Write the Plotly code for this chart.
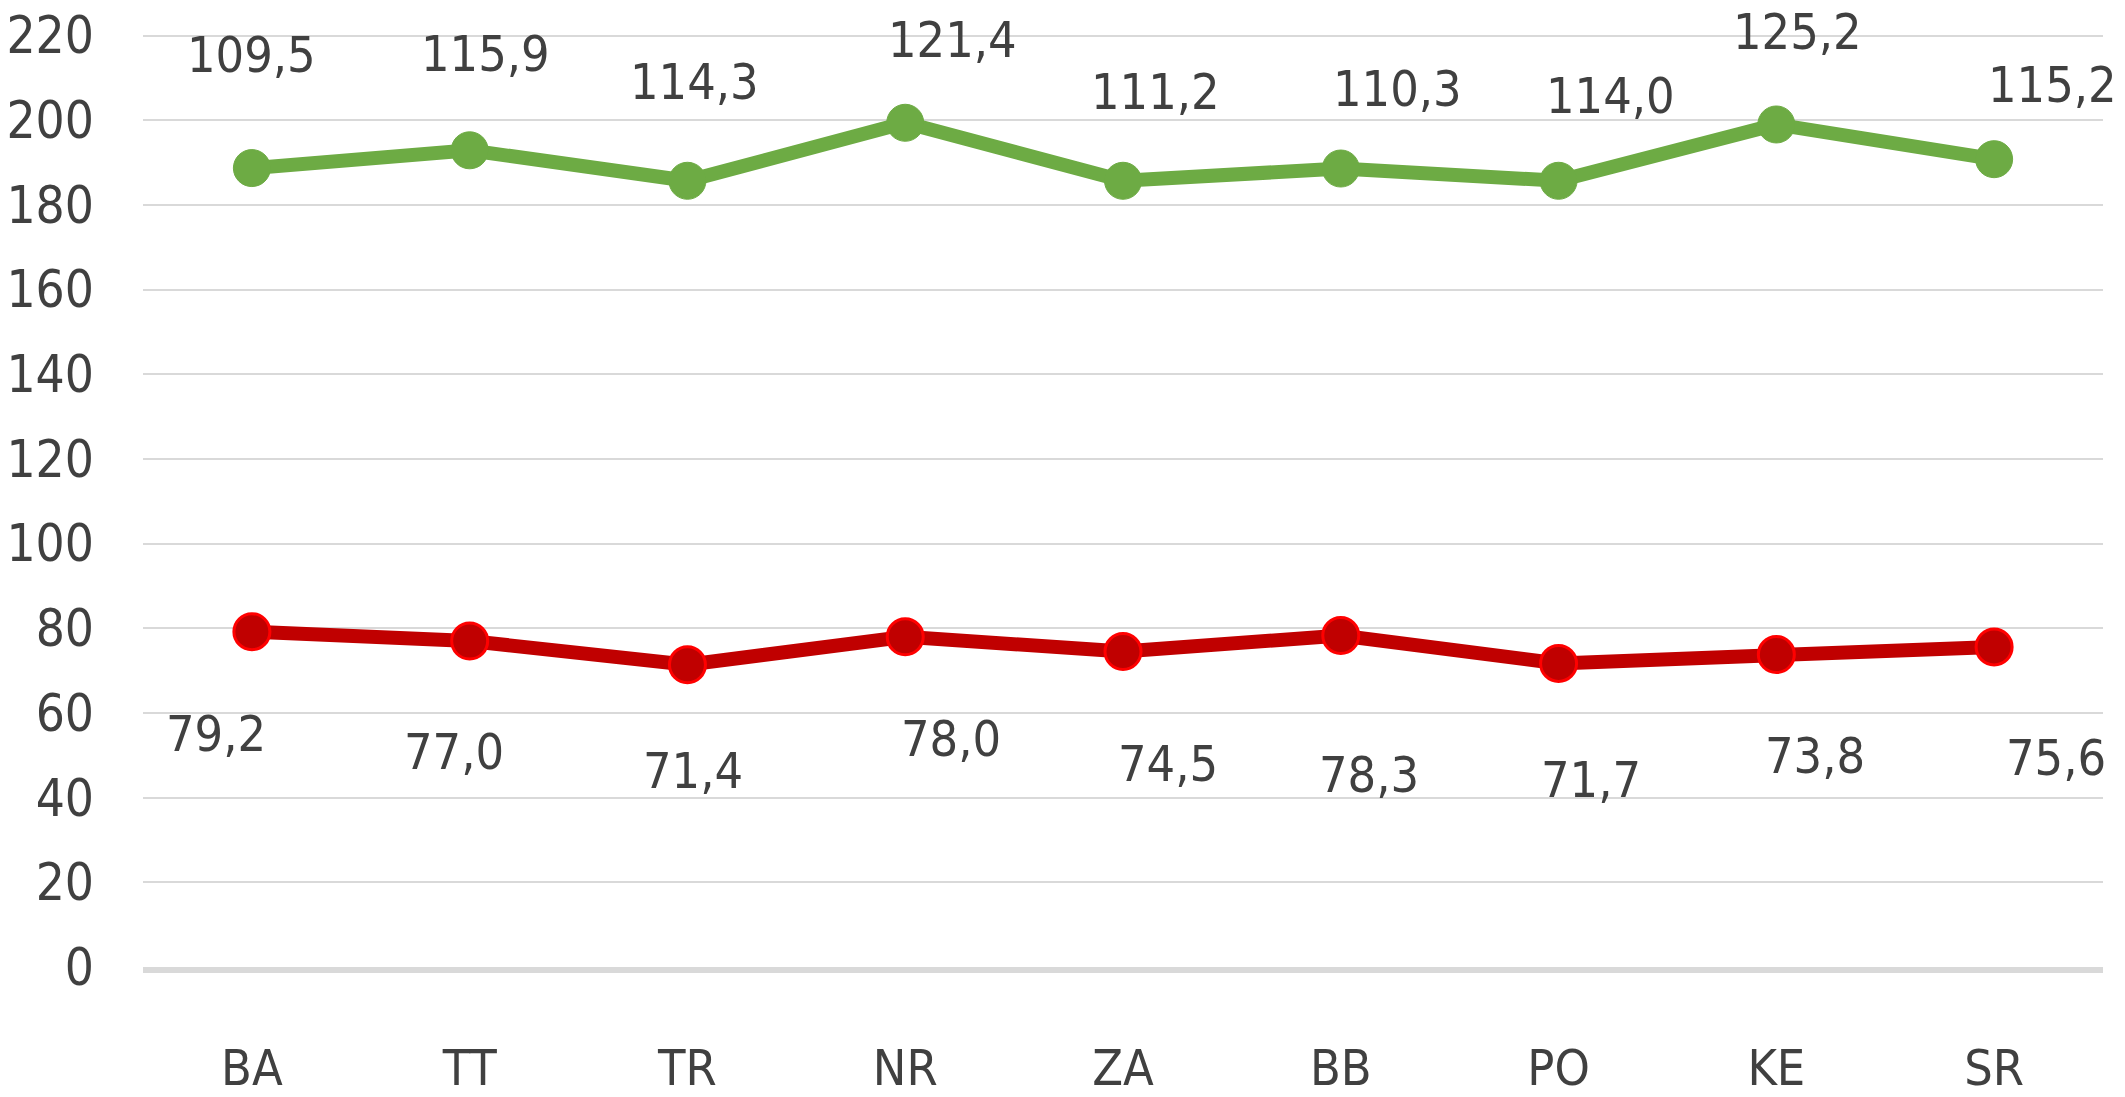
import plotly.graph_objects as go

# regions (x axis)
regions = ["BA", "TT", "TR", "NR", "ZA", "BB", "PO", "KE", "SR"]

# lower series (red) and upper series (green), the green one is stacked on the red
red_values = [79.2, 77.0, 71.4, 78.0, 74.5, 78.3, 71.7, 73.8, 75.6]
green_values = [109.5, 115.9, 114.3, 121.4, 111.2, 110.3, 114.0, 125.2, 115.2]

y_ticks = [0, 20, 40, 60, 80, 100, 120, 140, 160, 180, 200, 220]

# data labels were dragged by hand in the original, so keep their pixel offsets
green_label_dx = [0, 16, 7, 47, 32, 57, 52, 21, 58]
green_label_dy = [113, 96, 99, 83, 89, 80, 85, 92, 74]
red_label_dx = [-36, -16, 6, 46, 45, 28, 32, 39, 62]
red_label_dy = [-102, -111, -106, -102, -112, -140, -117, -101, -111]

FONT = "Liberation Sans Narrow, DejaVu Sans Condensed, Roboto Condensed, Arial Narrow, sans-serif"
TEXT_COLOR = "#404040"
GREEN = "#6dab44"
DARK_RED = "#c00000"
RED = "#ff0000"
FONT_SIZE = 50


def fmt(v):
    return f"{v:.1f}".replace(".", ",")


fig = go.Figure()

fig.add_trace(
    go.Scatter(
        x=regions,
        y=red_values,
        mode="lines+markers",
        stackgroup="one",
        fill="none",
        line=dict(color=DARK_RED, width=14),
        marker=dict(size=36, color=DARK_RED, line=dict(color=RED, width=3)),
        showlegend=False,
    )
)

fig.add_trace(
    go.Scatter(
        x=regions,
        y=green_values,
        mode="lines+markers",
        stackgroup="one",
        fill="none",
        line=dict(color=GREEN, width=14),
        marker=dict(size=37, color=GREEN, line=dict(color=GREEN, width=1)),
        showlegend=False,
    )
)

# data labels
for i, region in enumerate(regions):
    fig.add_annotation(
        x=region,
        y=red_values[i] + green_values[i],
        text=fmt(green_values[i]),
        showarrow=False,
        xshift=green_label_dx[i],
        yshift=green_label_dy[i],
        font=dict(family=FONT, size=FONT_SIZE, color=TEXT_COLOR),
    )
    fig.add_annotation(
        x=region,
        y=red_values[i],
        text=fmt(red_values[i]),
        showarrow=False,
        xshift=red_label_dx[i],
        yshift=red_label_dy[i],
        font=dict(family=FONT, size=FONT_SIZE, color=TEXT_COLOR),
    )

fig.update_layout(
    width=2125,
    height=1097,
    margin=dict(l=143, r=22, t=0, b=107),
    plot_bgcolor="white",
    paper_bgcolor="white",
    font=dict(family=FONT, size=FONT_SIZE, color=TEXT_COLOR),
    showlegend=False,
)

fig.update_xaxes(
    range=[-0.5, len(regions) - 0.5],
    showgrid=False,
    showline=True,
    linewidth=6,
    linecolor="#d9d9d9",
    ticks="",
    ticklabelstandoff=52,
    tickfont=dict(family=FONT, size=FONT_SIZE, color=TEXT_COLOR),
)

fig.update_yaxes(
    range=[0, 228.4],
    tickvals=y_ticks,
    showgrid=True,
    gridcolor="#d9d9d9",
    gridwidth=2,
    zeroline=False,
    showline=False,
    ticks="",
    ticklabelstandoff=48,
    tickfont=dict(family=FONT, size=51, color=TEXT_COLOR),
)

fig.write_html(
    "out.html",
    config={"displayModeBar": False},
    post_script="document.body.style.margin='0';",
)
